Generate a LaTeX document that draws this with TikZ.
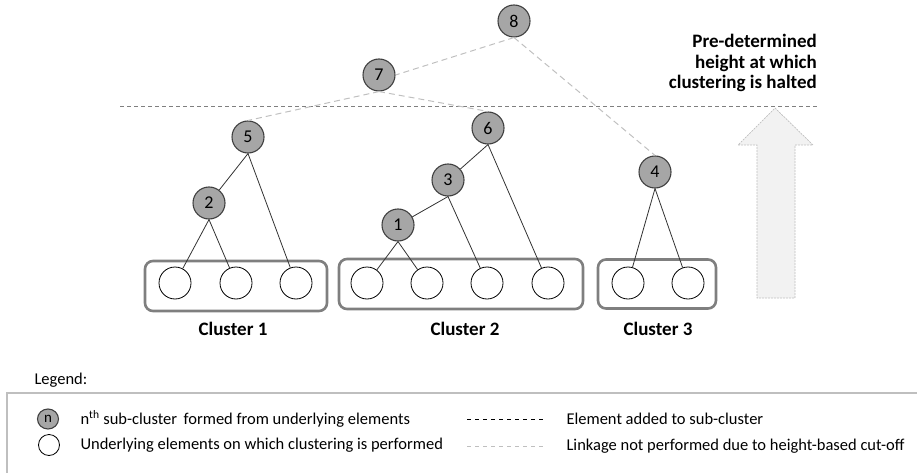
\documentclass[tikz,border=0pt]{standalone}
\usepackage{fontspec}
\setmainfont{Carlito}
\usetikzlibrary{shapes.geometric}
\definecolor{nodefill}{HTML}{A6A6A6}
\definecolor{nodeline}{HTML}{404040}
\definecolor{boxline}{HTML}{7F7F7F}
\definecolor{cutgray}{HTML}{C0C0C0}
\definecolor{arrowfill}{HTML}{F2F2F2}
\definecolor{legline}{HTML}{BFBFBF}
\begin{document}
\begin{tikzpicture}[x=1pt,y=-1pt,
  inner/.style={circle, draw=nodeline, line width=1.1pt, fill=nodefill,
    minimum size=32pt, inner sep=0pt, font=\fontsize{18}{18}\selectfont},
  leaf/.style={circle, draw=black, line width=0.8pt, fill=white,
    minimum size=32pt, inner sep=0pt},
  link/.style={draw=black!80, line width=0.8pt},
  cutlink/.style={draw=cutgray, line width=1pt, dash pattern=on 6pt off 4pt},
  clusterbox/.style={draw=boxline, rounded corners=8pt, line width=2.6pt,
    inner sep=0pt},
  clusterlabel/.style={font=\fontsize{19}{19}\selectfont\bfseries},
  legendtext/.style={anchor=west, font=\fontsize{16.5}{17}\selectfont},
]
\useasboundingbox (0,0) rectangle (917,473);

% height cut-off line and arrow
\coordinate (cutL) at (120,107);
\coordinate (cutR) at (818,107);
\draw[draw=boxline, line width=1pt, dash pattern=on 4pt off 3pt] (cutL) -- (cutR);
\draw[fill=arrowfill, draw=legline, line width=0.7pt, dash pattern=on 2pt off 1pt]
  (775,108) -- (813,145) -- (795,145) -- (795,298) -- (757,298) -- (757,145) -- (738,145) -- cycle;
\node[anchor=north east, align=right, font=\fontsize{19}{20.5}\selectfont\bfseries,
  inner sep=0pt] (halt) at (817,34) {Pre-determined\\height at which\\clustering is halted};

% cluster boxes
\node[clusterbox, minimum width=182pt, minimum height=50pt] (box1) at (236,286) {};
\node[clusterbox, minimum width=244pt, minimum height=50pt] (box2) at (461,284) {};
\node[clusterbox, minimum width=118pt, minimum height=49pt] (box3) at (657,284) {};
\node[clusterlabel] (lab1) at (233,329) {Cluster 1};
\node[clusterlabel] (lab2) at (465,329) {Cluster 2};
\node[clusterlabel] (lab3) at (658,329) {Cluster 3};

% underlying elements
\node[leaf] (a1) at (175,283) {};
\node[leaf] (a2) at (236,283) {};
\node[leaf] (a3) at (296,283) {};
\node[leaf] (b1) at (367,283) {};
\node[leaf] (b2) at (427,283) {};
\node[leaf] (b3) at (487,283) {};
\node[leaf] (b4) at (548,283) {};
\node[leaf] (c1) at (628,283) {};
\node[leaf] (c2) at (688,283) {};

% sub-clusters
\node[inner] (n1) at (398,225) {1};
\node[inner] (n2) at (209,203) {2};
\node[inner] (n3) at (448,180) {3};
\node[inner] (n4) at (655,172) {4};
\node[inner] (n5) at (248,137) {5};
\node[inner] (n6) at (488,128) {6};
\node[inner] (n7) at (379,75) {7};
\node[inner] (n8) at (514,21) {8};

% linkages performed
\draw[link] (n2.south) -- (a1);
\draw[link] (n2.south) -- (a2);
\draw[link] (n5.south) -- (n2);
\draw[link] (n5.south) -- (a3);
\draw[link] (n1.south) -- (b1);
\draw[link] (n1.south) -- (b2);
\draw[link] (n3.south) -- (n1);
\draw[link] (n3.south) -- (b3);
\draw[link] (n6.south) -- (n3);
\draw[link] (n6.south) -- (b4);
\draw[link] (n4.south) -- (c1);
\draw[link] (n4.south) -- (c2);

% linkages cut off by the height limit
\draw[cutlink] (n7.south) -- (n5.north);
\draw[cutlink] (n7.south) -- (n6.north);
\draw[cutlink] (n8.south) -- (n7.east);
\draw[cutlink] (n8.south) -- (n4.north);

% legend
\node[legendtext] (legtitle) at (31,380) {Legend:};
\coordinate (legTR) at (917,393);
\coordinate (legTL) at (7,393);
\coordinate (legBL) at (7,473);
\draw[draw=black!25, line width=1.5pt] (legTR) -- (legTL) -- (legBL);

\node[ellipse, draw=nodeline, line width=1.1pt, fill=nodefill, minimum width=21pt,
  minimum height=20pt, inner sep=0pt, font=\fontsize{15}{15}\selectfont] (legn) at (48,419) {n};
\node[legendtext] (legntext) at (77,419) {n\textsuperscript{th} sub-cluster\, formed from underlying elements};
\node[ellipse, draw=black, line width=0.8pt, fill=white, minimum width=21pt,
  minimum height=21pt, inner sep=0pt] (legleaf) at (49,445) {};
\node[legendtext] (legleaftext) at (77,445) {Underlying elements on which clustering is performed};

\coordinate (dashA) at (467,419);
\coordinate (dashB) at (545,419);
\draw[draw=black, line width=0.8pt, dash pattern=on 4pt off 4pt] (dashA) -- (dashB);
\node[legendtext] (legdashtext) at (563,419) {Element added to sub-cluster};
\coordinate (cutA) at (467,446);
\coordinate (cutB) at (545,446);
\draw[draw=legline, line width=0.8pt, dash pattern=on 4pt off 4pt] (cutA) -- (cutB);
\node[legendtext] (legcuttext) at (563,446) {Linkage not performed due to height-based cut-off};
\end{tikzpicture}
\end{document}
